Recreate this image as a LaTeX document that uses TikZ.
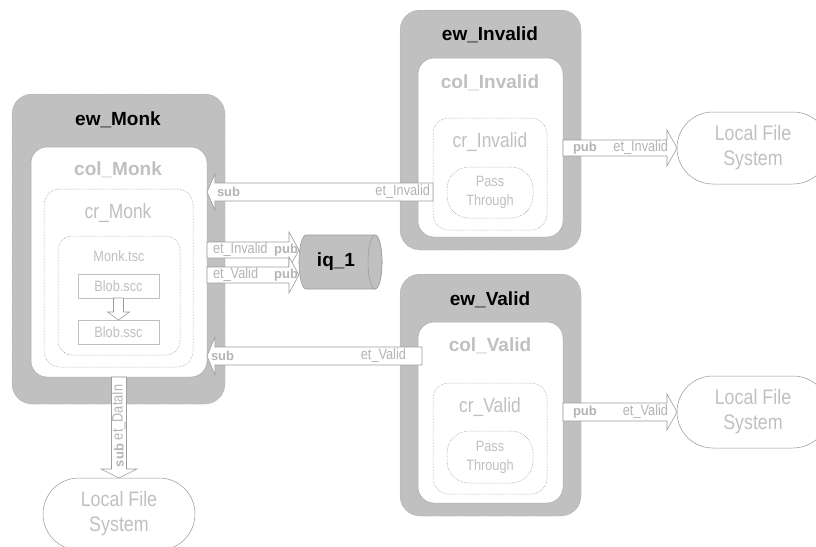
\documentclass[tikz,border=0pt]{standalone}
\usepackage{fontspec}
\setmainfont{Liberation Sans}
\newfontfamily\nrw[FakeStretch=0.85]{Liberation Sans}
\usetikzlibrary{shapes.geometric,calc}
\definecolor{ewfill}{HTML}{C0C0C0}
\definecolor{ewline}{HTML}{A0A0A0}
\definecolor{colline}{HTML}{A8A8A8}
\definecolor{dashline}{HTML}{8A8A8A}
\definecolor{lighttext}{HTML}{C0C0C0}
\definecolor{labtext}{HTML}{B4B4B4}
\definecolor{arrline}{HTML}{9C9C9C}
\definecolor{lfsline}{HTML}{959595}
\newcommand\hblk[5]{%
  \draw[blockarr] let \p1=(#1), \p2=(#2), \n1={sign(\x2-\x1)}, \n2={\x2-\n1*#5pt} in
  ({\x1},{\y1+#3pt}) -- ({\n2},{\y1+#3pt}) -- ({\n2},{\y1+#4pt}) -- ({\x2},{\y1})
  -- ({\n2},{\y1-#4pt}) -- ({\n2},{\y1-#3pt}) -- ({\x1},{\y1-#3pt}) -- cycle;}
\newcommand\vblk[5]{%
  \draw[blockarr] let \p1=(#1), \p2=(#2), \n1={sign(\y2-\y1)}, \n2={\y2-\n1*#5pt} in
  ({\x1+#3pt},{\y1}) -- ({\x1+#3pt},{\n2}) -- ({\x1+#4pt},{\n2}) -- ({\x1},{\y2})
  -- ({\x1-#4pt},{\n2}) -- ({\x1-#3pt},{\n2}) -- ({\x1-#3pt},{\y1}) -- cycle;}
\begin{document}
\begin{tikzpicture}[x=1pt,y=-1pt,
  every node/.style={inner sep=0pt, outer sep=0pt},
  ewbox/.style={draw=ewline, densely dotted, fill=ewfill, rounded corners=20pt, line width=0.5pt},
  colbox/.style={draw=colline, fill=white, rounded corners=16pt, line width=0.5pt},
  crbox/.style={draw=dashline, densely dotted, rounded corners=16pt, line width=0.5pt},
  tscbox/.style={draw=dashline, densely dotted, rounded corners=14pt, line width=0.5pt},
  passbox/.style={draw=dashline, densely dotted, rounded corners=22pt, line width=0.5pt},
  blobbox/.style={draw=lighttext, line width=0.6pt},
  lfsbox/.style={draw=lfsline, rounded corners=35.9pt, line width=0.5pt, minimum width=152pt, minimum height=72pt},
  ewtitle/.style={font=\fontsize{19}{21}\selectfont\bfseries, text=black},
  coltitle/.style={font=\fontsize{19}{21}\selectfont\bfseries, text=lighttext},
  crtitle/.style={font=\nrw\fontsize{20.5}{22}\selectfont, text=lighttext},
  smalltext/.style={font=\nrw\fontsize{15}{19}\selectfont, text=lighttext, align=center},
  lfstext/.style={font=\nrw\fontsize{21}{25}\selectfont, text=lighttext, align=center},
  arrlab/.style={font=\nrw\fontsize{15}{17}\selectfont, text=labtext},
  arrbold/.style={font=\fontsize{13}{15}\selectfont\bfseries, text=labtext},
  blockarr/.style={draw=arrline, fill=white, line width=0.6pt, line join=miter},
  cyl/.style={draw=arrline, fill=ewfill, line width=0.6pt},
]
\useasboundingbox (0,0) rectangle (816,546);

% ---- ew_Monk ----
\node[ewbox, minimum width=213pt, minimum height=310pt] (ewMonk) at (118.5,249) {};
\node[colbox, minimum width=176pt, minimum height=230pt] (colMonk) at (119,262) {};
\node[crbox, minimum width=149pt, minimum height=178pt] (crMonk) at (118.5,278) {};
\node[tscbox, minimum width=122pt, minimum height=119pt] (monkTsc) at (119,295.5) {};
\node[blobbox, minimum width=81pt, minimum height=24pt] (blobScc) at (118.5,286) {};
\node[blobbox, minimum width=81pt, minimum height=24pt] (blobSsc) at (118.5,332) {};
\node[ewtitle] (tEwMonk) at (118,120) {ew\_Monk};
\node[coltitle] (tColMonk) at (118,170) {col\_Monk};
\node[crtitle] (tCrMonk) at (118,213) {cr\_Monk};
\node[smalltext] (tMonkTsc) at (119,256) {Monk.tsc};
\node[smalltext] (tBlobScc) at (118.5,286) {Blob.scc};
\node[smalltext] (tBlobSsc) at (118.5,332) {Blob.ssc};
\vblk{blobScc.south}{blobSsc.north}{5}{11}{8}

% ---- ew_Invalid ----
\node[ewbox, minimum width=181pt, minimum height=240pt] (ewInvalid) at (490.5,130) {};
\node[colbox, minimum width=145pt, minimum height=179pt] (colInvalid) at (490.5,147.5) {};
\node[crbox, minimum width=114pt, minimum height=112pt] (crInvalid) at (490,174) {};
\node[passbox, minimum width=86pt, minimum height=51pt, smalltext] (passInvalid) at (490,192.5) {Pass\\Through};
\node[ewtitle] (tEwInvalid) at (490,35) {ew\_Invalid};
\node[coltitle] (tColInvalid) at (490,83) {col\_Invalid};
\node[crtitle] (tCrInvalid) at (490,142) {cr\_Invalid};

% ---- ew_Valid ----
\node[ewbox, minimum width=181pt, minimum height=242pt] (ewValid) at (490.5,395) {};
\node[colbox, minimum width=145pt, minimum height=181pt] (colValid) at (490.5,412.5) {};
\node[crbox, minimum width=114pt, minimum height=111pt] (crValid) at (490,438.5) {};
\node[passbox, minimum width=86pt, minimum height=52pt, smalltext] (passValid) at (490,457) {Pass\\Through};
\node[ewtitle] (tEwValid) at (490,300) {ew\_Valid};
\node[coltitle] (tColValid) at (490,346) {col\_Valid};
\node[crtitle] (tCrValid) at (490,407) {cr\_Valid};

% ---- iq_1 (cylinder) ----
\node[minimum width=83pt, minimum height=54pt] (iq) at (340.5,262) {};
\draw[cyl] ($(iq.north west)+(7,0)$) -- ($(iq.north east)+(-7,0)$)
  arc[start angle=90, end angle=-90, x radius=7pt, y radius=27pt]
  -- ($(iq.south west)+(7,0)$)
  arc[start angle=270, end angle=90, x radius=7pt, y radius=27pt] -- cycle;
\draw[cyl] ($(iq.east)+(-7,0)$) ellipse[x radius=7pt, y radius=27pt];
\node[ewtitle] (tIq) at (336,262) {iq\_1};

% ---- Local file systems ----
\node[lfsbox, lfstext] (lfs1) at (753,148) {Local File\\System};
\node[lfsbox, lfstext] (lfs2) at (753,412) {Local File\\System};
\node[lfsbox, lfstext] (lfs3) at (119,514) {Local File\\System};

% ---- connector anchor coordinates ----
\coordinate (a1s) at ($(crInvalid.west)+(0,18)$);
\coordinate (a1e) at (colMonk.east |- a1s);
\coordinate (a2s) at ($(colMonk.east)+(0,-12)$);
\coordinate (a2e) at (iq.west |- a2s);
\coordinate (a3s) at ($(colMonk.east)+(0,13)$);
\coordinate (a3e) at (iq.west |- a3s);
\coordinate (a4s) at ($(colValid.west)+(4,-56.5)$);
\coordinate (a4e) at (colMonk.east |- a4s);
\coordinate (a5s) at (colInvalid.east |- lfs1.west);
\coordinate (a6s) at (colValid.east |- lfs2.west);
\coordinate (a7s) at (colMonk.south);
\coordinate (a7e) at (colMonk.south |- lfs3.north);

% ---- block arrows ----
\hblk{a1s}{a1e}{9}{18}{8}
\hblk{a2s}{a2e}{8}{18}{10}
\hblk{a3s}{a3e}{8}{18}{10}
\hblk{a4s}{a4e}{9}{19}{8}
\hblk{a5s}{lfs1.west}{8}{18}{10}
\hblk{a6s}{lfs2.west}{9}{18}{10}
\vblk{a7s}{a7e}{7.5}{18}{9}

% ---- arrow labels ----
\node[arrbold, anchor=west] (l1a) at ($(a1e)+(10,0)$) {sub};
\node[arrlab, anchor=east] (l1b) at ($(a1s)+(-3,0)$) {et\_Invalid};
\node[arrlab, anchor=west] (l2a) at ($(a2s)+(6,0)$) {et\_Invalid};
\node[arrbold, anchor=east] (l2b) at ($(a2e)+(-1,0)$) {pub};
\node[arrlab, anchor=west] (l3a) at ($(a3s)+(6,0)$) {et\_Valid};
\node[arrbold, anchor=east] (l3b) at ($(a3e)+(-1,0)$) {pub};
\node[arrbold, anchor=west] (l4a) at ($(a4e)+(4,0)$) {sub};
\node[arrlab, anchor=east] (l4b) at ($(a4s)+(-16,0)$) {et\_Valid};
\node[arrbold, anchor=west] (l5a) at ($(a5s)+(10,0)$) {pub};
\node[arrlab, anchor=east] (l5b) at ($(lfs1.west)+(-9,0)$) {et\_Invalid};
\node[arrbold, anchor=west] (l6a) at ($(a6s)+(10,0)$) {pub};
\node[arrlab, anchor=east] (l6b) at ($(lfs2.west)+(-9,0)$) {et\_Valid};
\node[arrbold, anchor=west, rotate=90] (l7a) at ($(a7e)+(0,-11)$) {sub};
\node[arrlab, anchor=west, rotate=90] (l7b) at ($(a7e)+(0,-38)$) {et\_DataIn};
\end{tikzpicture}
\end{document}
